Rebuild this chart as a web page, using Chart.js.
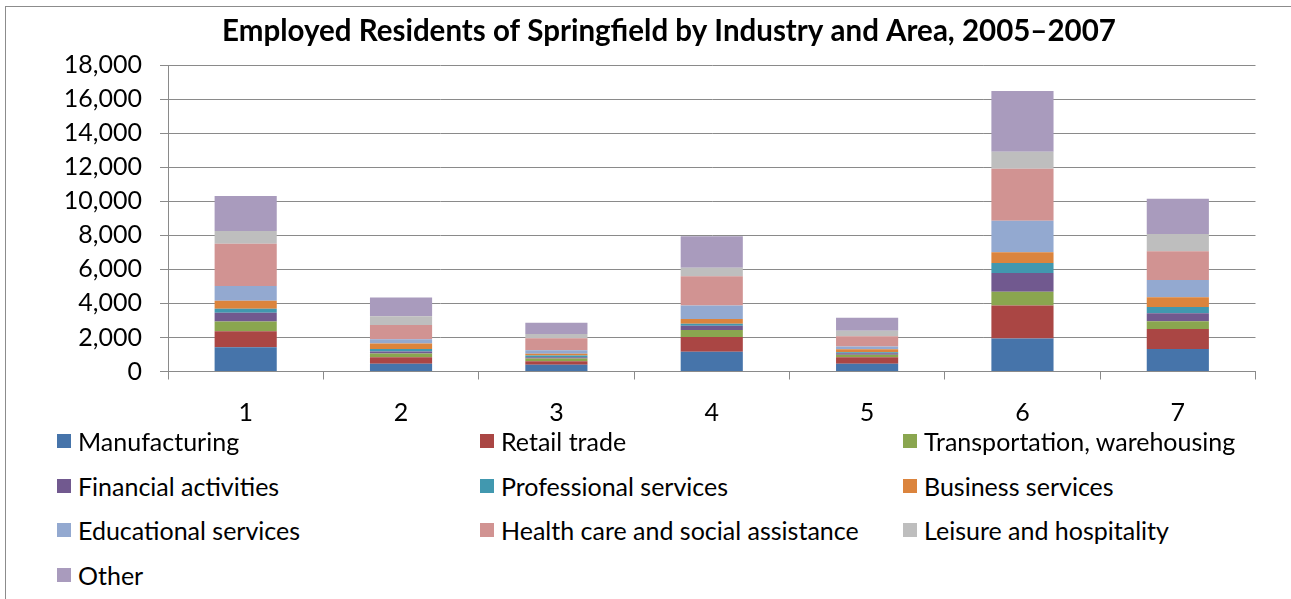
<!DOCTYPE html>
<html>
<head>
<meta charset="utf-8">
<script src="https://cdn.jsdelivr.net/npm/chart.js@4.4.0/dist/chart.umd.min.js"></script>
<style>
  body { margin: 0; background: #fff; overflow: hidden; }
  #frame { position: absolute; left: 5px; top: 6px; width: 1400px; height: 700px; border: 1px solid #8c8c8c; }
  #wrap { position: absolute; left: 0; top: 0; width: 1338px; height: 430px; }
  #legend { position: absolute; left: 0; top: 420px; width: 1291px; font-family: Lato, sans-serif; font-size: 25px; color: #000; }
  .item { position: absolute; display: flex; align-items: center; height: 30px; white-space: nowrap; }
  .box { width: 14px; height: 14px; margin-right: 7px; }
</style>
</head>
<body>
<div id="frame"></div>
<div id="wrap"><canvas id="myChart"></canvas></div>
<div id="legend"></div>
<script>
var areas = ['1', '2', '3', '4', '5', '6', '7'];
var industries = ['Manufacturing', 'Retail trade', 'Transportation, warehousing',
    'Financial activities', 'Professional services', 'Business services',
    'Educational services', 'Health care and social assistance', 'Leisure and hospitality', 'Other'];
var manufacturing = [1430, 450, 390, 1160, 450, 1940, 1320];
var retail = [940, 390, 210, 860, 390, 1940, 1180];
var transportation = [570, 220, 160, 410, 140, 805, 450];
var financial = [510, 120, 80, 260, 95, 1100, 470];
var professional = [235, 140, 100, 120, 60, 590, 375];
var business = [470, 320, 100, 270, 175, 625, 565];
var educational = [860, 250, 210, 790, 160, 1850, 1020];
var health = [2490, 840, 710, 1720, 605, 3060, 1680];
var leisure = [740, 510, 235, 510, 315, 1000, 1020];
var other = [2060, 1100, 670, 1840, 765, 3565, 2060];
var colors = ['#4674AA', '#AA4644', '#8AA64F', '#71598F', '#4198AF',
    '#DB843D', '#93A9D0', '#D19392', '#BEBEBE', '#A99BBD'];
var yTicks = [0, 2000, 4000, 6000, 8000, 10000, 12000, 14000, 16000, 18000];

var series = [manufacturing, retail, transportation, financial, professional,
    business, educational, health, leisure, other];

var gray = '#8a8a8a';
var ctx = document.getElementById('myChart').getContext('2d');
var myChart = new Chart(ctx, {
    type: 'bar',
    data: {
        labels: areas,
        datasets: series.map(function (d, i) {
            return {
                label: industries[i],
                data: d,
                backgroundColor: colors[i],
                borderWidth: 0,
                categoryPercentage: 1,
                barPercentage: 0.4
            };
        })
    },
    options: {
        responsive: true,
        maintainAspectRatio: false,
        animation: false,
        layout: { padding: 0 },
        plugins: {
            legend: { display: false },
            tooltip: { enabled: false },
            title: {
                display: true,
                text: 'Employed Residents of Springfield by Industry and Area, 2005\u20132007',
                color: '#000',
                font: { family: 'Lato', size: 29.5, weight: 'bold' },
                padding: { top: 13.5, bottom: 16.1 }
            }
        },
        scales: {
            x: {
                stacked: true,
                afterFit: function (s) { s.height = 58.5; },
                grid: { drawOnChartArea: false, drawTicks: true, tickLength: 8, color: gray },
                border: { display: true, color: gray },
                ticks: { color: '#000', font: { family: 'Lato', size: 25 }, padding: 18 }
            },
            y: {
                stacked: true,
                min: 0,
                max: 18000,
                afterFit: function (s) { s.width = 168; },
                afterBuildTicks: function (s) {
                    s.ticks = yTicks.map(function (v) { return { value: v }; });
                },
                grid: { color: gray, tickLength: 8 },
                border: { display: true, color: gray },
                ticks: {
                    color: '#000',
                    font: { family: 'Lato', size: 25 },
                    padding: 18,
                    callback: function (v) { return v.toLocaleString('en-US'); }
                }
            },
            // empty right-hand strip so the full-width title is centred like the original
            pad: {
                type: 'linear',
                position: 'right',
                afterFit: function (s) { s.width = 82.5; },
                grid: { display: false },
                border: { display: false },
                ticks: { display: false }
            }
        }
    }
});

// legend laid out in three columns like the original
var legend = document.getElementById('legend');
var colX = [57, 480, 903];
var rowY = [441, 485.5, 530, 574.5];
industries.forEach(function (name, i) {
    var el = document.createElement('div');
    el.className = 'item';
    el.style.left = colX[i % 3] + 'px';
    el.style.top = (rowY[Math.floor(i / 3)] - 420 - 15) + 'px';
    var box = document.createElement('span');
    box.className = 'box';
    box.style.background = colors[i];
    el.appendChild(box);
    el.appendChild(document.createTextNode(name));
    legend.appendChild(el);
});
</script>
</body>
</html>
